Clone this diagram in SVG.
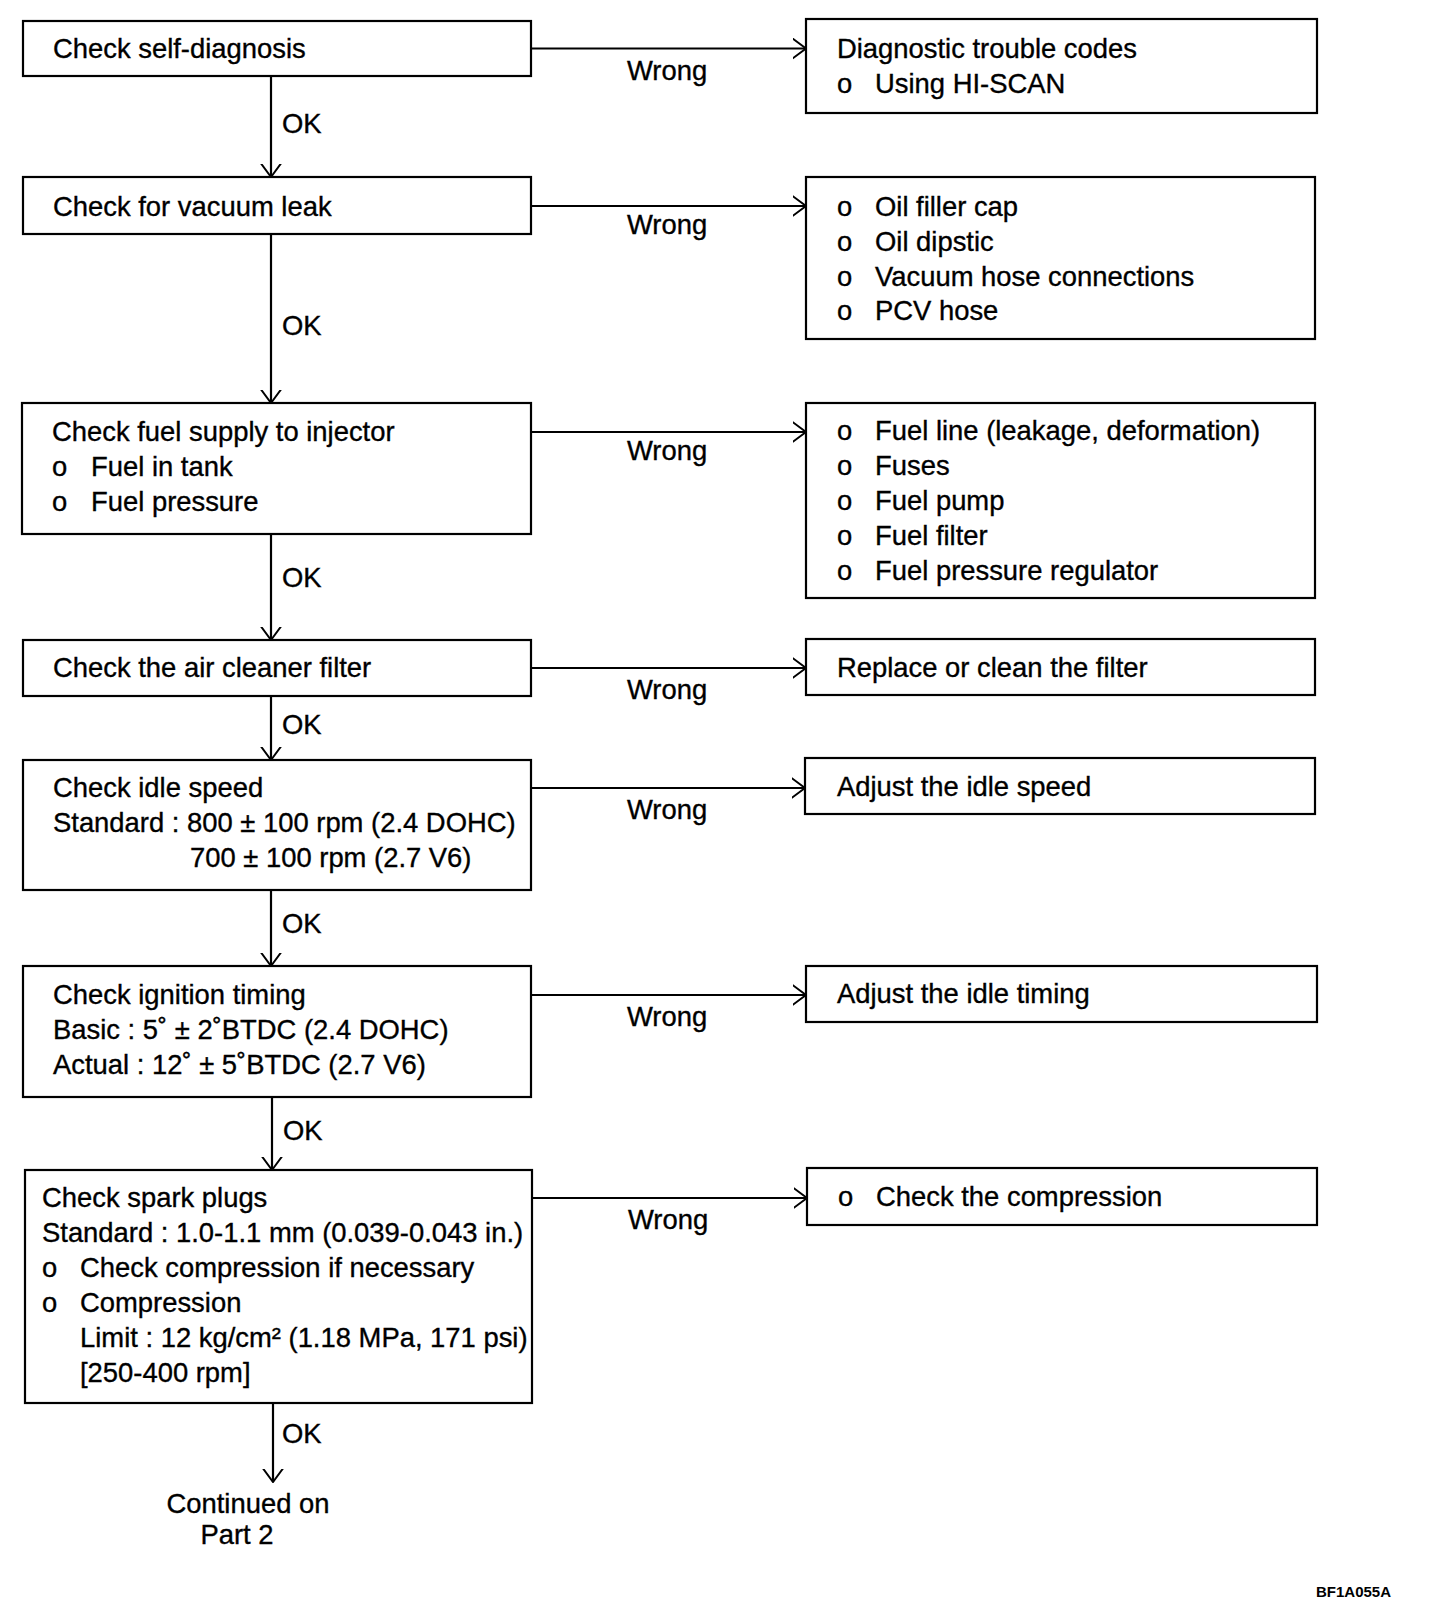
<svg xmlns="http://www.w3.org/2000/svg" width="1440" height="1616" viewBox="0 0 1440 1616">
<defs>
<marker id="arr" markerUnits="userSpaceOnUse" viewBox="0 0 14 22" refX="13.5" refY="11" markerWidth="14" markerHeight="22" orient="auto">
<path d="M0,1 L13.5,11 L0,21" fill="none" stroke="#000" stroke-width="2"/>
</marker>
</defs>
<style>
text{font-family:"Liberation Sans",Arial,sans-serif;font-size:27.4px;fill:#000;stroke:#000;stroke-width:0.35}
.box{fill:#fff;stroke:#000;stroke-width:2.2}
.c{fill:none;stroke:#000;stroke-width:2.2;marker-end:url(#arr)}
.code{font-size:15px;font-weight:bold;stroke-width:0}
</style>
<rect width="1440" height="1616" fill="#fff"/>
<g id="connectors">
<line class="c" x1="531" y1="48.5" x2="806" y2="48.5"/>
<line class="c" x1="531" y1="206" x2="806" y2="206"/>
<line class="c" x1="531" y1="432" x2="806" y2="432"/>
<line class="c" x1="531" y1="668" x2="806" y2="668"/>
<line class="c" x1="531" y1="788" x2="805" y2="788"/>
<line class="c" x1="531" y1="995" x2="806" y2="995"/>
<line class="c" x1="532" y1="1198" x2="807" y2="1198"/>
<line class="c" x1="271" y1="76" x2="271" y2="177"/>
<line class="c" x1="271" y1="234" x2="271" y2="403"/>
<line class="c" x1="271" y1="534" x2="271" y2="640"/>
<line class="c" x1="271" y1="696" x2="271" y2="760"/>
<line class="c" x1="271" y1="890" x2="271" y2="966"/>
<line class="c" x1="272" y1="1097" x2="272" y2="1170"/>
<line class="c" x1="273" y1="1403" x2="273" y2="1482"/>
<text x="282" y="133">OK</text>
<text x="282" y="335">OK</text>
<text x="282" y="587">OK</text>
<text x="282" y="734">OK</text>
<text x="282" y="933">OK</text>
<text x="283" y="1140">OK</text>
<text x="282" y="1443">OK</text>
<text x="627" y="80">Wrong</text>
<text x="627" y="234">Wrong</text>
<text x="627" y="460">Wrong</text>
<text x="627" y="699">Wrong</text>
<text x="627" y="819">Wrong</text>
<text x="627" y="1026">Wrong</text>
<text x="628" y="1229">Wrong</text>
</g>
<g id="n1">
<rect class="box" x="23" y="21" width="508" height="55"/>
<text x="53" y="58">Check self-diagnosis</text>
</g>
<g id="n2">
<rect class="box" x="23" y="177" width="508" height="57"/>
<text x="53" y="216">Check for vacuum leak</text>
</g>
<g id="n3">
<rect class="box" x="22" y="403" width="509" height="131"/>
<text x="52" y="441">Check fuel supply to injector</text>
<text x="52" y="476">o</text><text x="91" y="476">Fuel in tank</text>
<text x="52" y="511">o</text><text x="91" y="511">Fuel pressure</text>
</g>
<g id="n4">
<rect class="box" x="23" y="640" width="508" height="56"/>
<text x="53" y="677">Check the air cleaner filter</text>
</g>
<g id="n5">
<rect class="box" x="23" y="760" width="508" height="130"/>
<text x="53" y="797">Check idle speed</text>
<text x="53" y="832">Standard : 800 ± 100 rpm (2.4 DOHC)</text>
<text x="190" y="867">700 ± 100 rpm (2.7 V6)</text>
</g>
<g id="n6">
<rect class="box" x="23" y="966" width="508" height="131"/>
<text x="53" y="1004">Check ignition timing</text>
<text x="53" y="1039">Basic : 5˚ ± 2˚BTDC (2.4 DOHC)</text>
<text x="53" y="1074">Actual : 12˚ ± 5˚BTDC (2.7 V6)</text>
</g>
<g id="n7">
<rect class="box" x="25" y="1170" width="507" height="233"/>
<text x="42" y="1207">Check spark plugs</text>
<text x="42" y="1242">Standard : 1.0-1.1 mm (0.039-0.043 in.)</text>
<text x="42" y="1277">o</text><text x="80" y="1277">Check compression if necessary</text>
<text x="42" y="1312">o</text><text x="80" y="1312">Compression</text>
<text x="80" y="1347">Limit : 12 kg/cm² (1.18 MPa, 171 psi)</text>
<text x="80" y="1382">[250-400 rpm]</text>
</g>
<g id="n8">
<text x="248" y="1513" text-anchor="middle">Continued on</text>
<text x="237" y="1544" text-anchor="middle">Part 2</text>
</g>
<g id="r1">
<rect class="box" x="806" y="19" width="511" height="94"/>
<text x="837" y="58">Diagnostic trouble codes</text>
<text x="837" y="93">o</text><text x="875" y="93">Using HI-SCAN</text>
</g>
<g id="r2">
<rect class="box" x="806" y="177" width="509" height="162"/>
<text x="837" y="216">o</text><text x="875" y="216">Oil filler cap</text>
<text x="837" y="251">o</text><text x="875" y="251">Oil dipstic</text>
<text x="837" y="286">o</text><text x="875" y="286">Vacuum hose connections</text>
<text x="837" y="320">o</text><text x="875" y="320">PCV hose</text>
</g>
<g id="r3">
<rect class="box" x="806" y="403" width="509" height="195"/>
<text x="837" y="440">o</text><text x="875" y="440">Fuel line (leakage, deformation)</text>
<text x="837" y="475">o</text><text x="875" y="475">Fuses</text>
<text x="837" y="510">o</text><text x="875" y="510">Fuel pump</text>
<text x="837" y="545">o</text><text x="875" y="545">Fuel filter</text>
<text x="837" y="580">o</text><text x="875" y="580">Fuel pressure regulator</text>
</g>
<g id="r4">
<rect class="box" x="806" y="639" width="509" height="56"/>
<text x="837" y="677">Replace or clean the filter</text>
</g>
<g id="r5">
<rect class="box" x="805" y="758" width="510" height="56"/>
<text x="837" y="796">Adjust the idle speed</text>
</g>
<g id="r6">
<rect class="box" x="806" y="966" width="511" height="56"/>
<text x="837" y="1003">Adjust the idle timing</text>
</g>
<g id="r7">
<rect class="box" x="807" y="1168" width="510" height="57"/>
<text x="838" y="1206">o</text><text x="876" y="1206">Check the compression</text>
</g>
<text class="code" x="1316" y="1597">BF1A055A</text>
</svg>
